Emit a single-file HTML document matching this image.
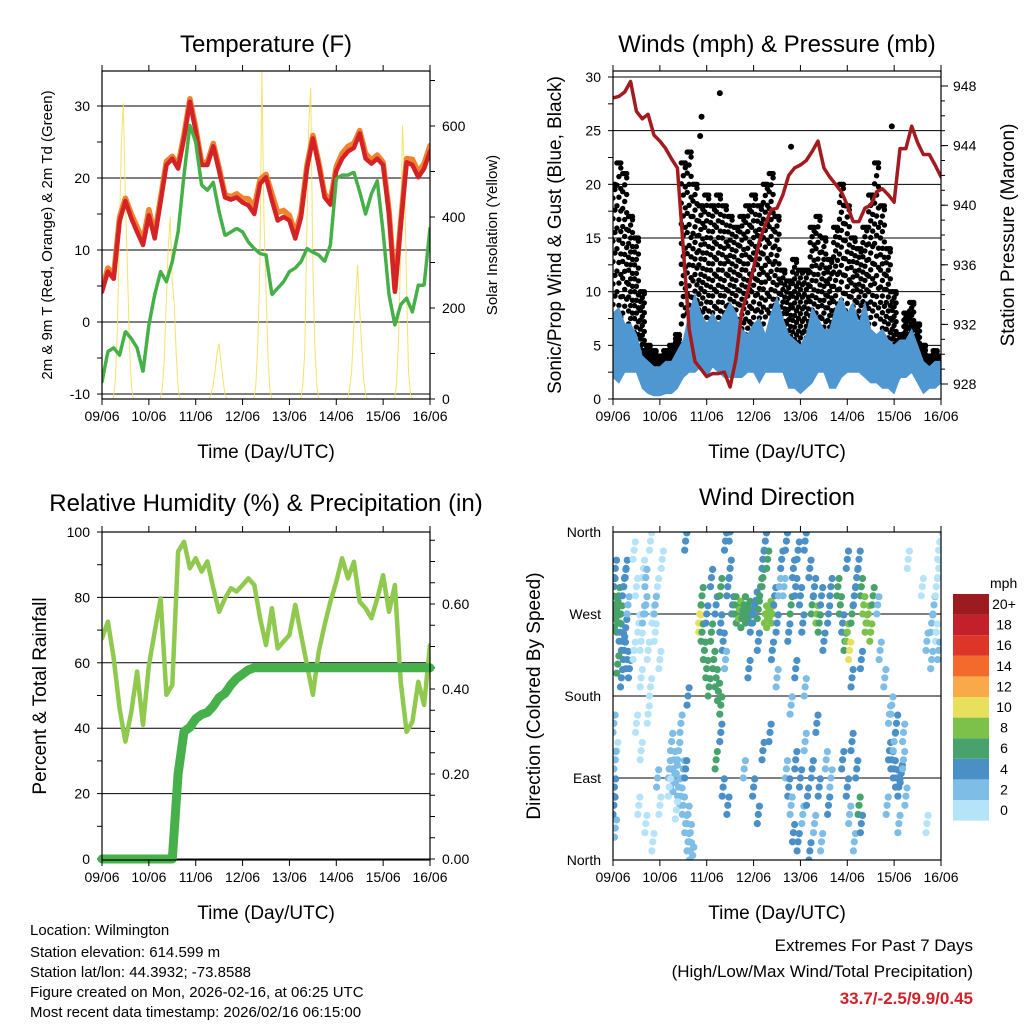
<!DOCTYPE html>
<html><head><meta charset="utf-8"><style>
html,body{margin:0;padding:0;background:#fff;}
svg{display:block;font-family:"Liberation Sans",Arial,sans-serif;}
</style></head><body>
<svg id="c" width="1024" height="1024" viewBox="0 0 1024 1024" xmlns="http://www.w3.org/2000/svg">
<rect width="1024" height="1024" fill="#fff"/>
<g id="g"></g>
<text x="266" y="52" font-size="24" text-anchor="middle">Temperature (F)</text>
<text x="777" y="52" font-size="24" text-anchor="middle">Winds (mph) &amp; Pressure (mb)</text>
<text x="266" y="511" font-size="24" text-anchor="middle">Relative Humidity (%) &amp; Precipitation (in)</text>
<text x="777" y="505" font-size="24" text-anchor="middle">Wind Direction</text>
<text transform="translate(52,235) rotate(-90)" font-size="15" text-anchor="middle">2m &amp; 9m T (Red, Orange) &amp; 2m Td (Green)</text>
<text transform="translate(497,235) rotate(-90)" font-size="15" text-anchor="middle">Solar Insolation (Yellow)</text>
<text transform="translate(561,235) rotate(-90)" font-size="19" text-anchor="middle">Sonic/Prop Wind &amp; Gust (Blue, Black)</text>
<text transform="translate(1014,235) rotate(-90)" font-size="19" text-anchor="middle">Station Pressure (Maroon)</text>
<text transform="translate(46,696) rotate(-90)" font-size="19" text-anchor="middle">Percent &amp; Total Rainfall</text>
<text transform="translate(540,696) rotate(-90)" font-size="19" text-anchor="middle">Direction (Colored By Speed)</text>
<text x="266" y="458" font-size="19" text-anchor="middle">Time (Day/UTC)</text>
<text x="777" y="458" font-size="19" text-anchor="middle">Time (Day/UTC)</text>
<text x="266" y="919" font-size="19" text-anchor="middle">Time (Day/UTC)</text>
<text x="777" y="919" font-size="19" text-anchor="middle">Time (Day/UTC)</text>
<g font-size="15">
<text x="30" y="935">Location: Wilmington</text>
<text x="30" y="957">Station elevation: 614.599 m</text>
<text x="30" y="977">Station lat/lon: 44.3932; -73.8588</text>
<text x="30" y="997">Figure created on Mon, 2026-02-16, at 06:25 UTC</text>
<text x="30" y="1017">Most recent data timestamp: 2026/02/16 06:15:00</text>
</g>
<g font-size="17" text-anchor="end">
<text x="973" y="951">Extremes For Past 7 Days</text>
<text x="973" y="977">(High/Low/Max Wind/Total Precipitation)</text>
<text x="973" y="1004" fill="#d0202a" font-weight="bold">33.7/-2.5/9.9/0.45</text>
</g>
</svg>
<script>
const dayLabels=["09/06","10/06","11/06","12/06","13/06","14/06","15/06","16/06"];
const tempRed=[4.2,7,6,14,16.8,14.4,12.5,10.7,14.8,11.6,16.7,21.8,22.7,21.3,25.5,30.6,26.5,21.8,21.8,24.4,21,17.3,17,17.3,16.6,16.2,15,19.2,20.1,16.9,14.1,14.6,14.1,11.6,14.6,21.3,25.5,21.8,17.3,16.3,21,22.7,23.7,24.2,26.2,22.7,22,22.7,21.8,15,4.2,13.4,22.2,21.8,20.1,21.3,23.7];
const tempOrange=[4.6,7.5,6.5,14.6,17.2,15,13.2,11.3,15.6,12.2,17.2,22.3,23,21.8,26,31,27,22.2,22.2,24.8,21.4,17.7,17.4,17.8,17.2,17.1,16,19.8,20.5,17.8,15.2,15.5,14.8,12.3,15.2,21.8,25.9,22.2,17.8,16.8,21.6,23.4,24.4,24.8,26.6,23.4,22.5,23.2,22.2,15.5,4.6,13.9,22.7,22.6,20.8,22,24.5];
const tempDew=[-8.3,-4.1,-3.6,-4.6,-1.3,-2.3,-3.6,-6.9,-0.4,3.8,7,5.6,8.4,12.5,20.4,27.3,25,19,18.3,19.4,15.3,12,12.5,13,12.5,11.1,10.2,9.5,9.3,3.8,4.7,5.6,7,7.5,8.4,10.2,9.7,9.3,8.4,10.7,19.9,20.4,20.4,20.8,18.1,15,17.8,19.6,12.5,3.8,-0.4,2.4,3.3,1.4,5.1,5.1,13];
const solarDays=[[0,40,150,350,560,650,450,300,120,30,0],[0,20,80,200,330,400,260,210,100,20,0],[0,0,10,30,60,100,122,80,40,10,0],[0,30,120,300,720,400,250,100,20,0,0],[0,30,100,350,600,683,300,120,30,0,0],[0,20,60,150,220,295,200,120,40,10,0],[0,30,120,300,602,500,250,60,10,0,0]];
const pressure=[947.2,947.3,947.6,948.3,946.3,945.8,946.1,944.7,944.3,943.8,943.1,942.5,937.1,931.7,929.5,929,928.5,928.7,928.7,928.8,927.8,929.7,932.9,934.2,935.8,937.6,938.7,939.7,939.8,940.7,942,942.5,942.7,943,943.6,944.3,942.5,941.9,941.4,940.9,940,938.9,938.9,939.8,940,940.9,941.1,940.7,940.2,943.8,943.8,945.3,944.2,943.4,943.4,942.7,941.9];
const windLo=[2,1.5,2.5,2.5,2.5,1,0.5,0.3,0.3,0.5,0.5,1,2,2.5,2.5,3,2,3,2.5,2,2,2,2,2.5,2.5,1.5,2.5,2.5,2.5,2.5,1,1,0.5,1,1.5,2.5,2.5,1,1,2,2.5,2.5,2.5,2,1.5,1.5,1,1,0.5,2,2,2.5,1.5,0.5,1,1,1.5];
const windHi=[8,8.5,7,7,6,4,3.5,3,3,3.5,3.5,4.5,5.5,8,9.8,8,7,8,7,8,9,8,6.5,6,7,7.5,6,8,9.5,7.5,6,5.5,5,6,8.5,7.5,6.5,6.5,8.5,9.5,8,9,7,9,6.5,6,6.5,5.5,5,5.5,5.5,6.5,5,3.5,3,3.5,3.5];
const gustLo=[4,6,8,7,5,3,2,1.5,1.5,1.5,2,3,7,8,8,7,7,6,7,6,6,5,6,6,7,7,7,8,6,3,3,4,3,3,5,5,5,4,5,7,5,4,4,5,7,7,6,4,3,2,3,3,2.5,2,1.5,2,2];
const gustHi=[20,22,21,17,15,10,5,4.5,4,4.5,5,6,22,23,20,18,19,18,19,18,17,16,17,18,19,18,20,21,17,12,11,13,12,12,16,17,15,13,16,20,18,15,14,16,19,22,18,14,10,6,8,9,7,5,4,4.5,4];
const gustOutT=[2.28,1.89,5.95,1.86,3.8];
const gustOutV=[28.5,26.3,25.4,24.5,23.5];
const rhPct=[67.5,72.6,61.4,46,35.9,45,57.3,41,59.3,69.5,79.7,50.2,53.2,94,97,88.9,92,87.9,91,82.8,75.6,79.7,82.8,81.8,83.8,85.8,83.8,73.6,65.4,76.7,64.4,66.5,68.5,77.7,68.5,59.3,50.2,63.4,71.6,78.7,84.8,92,85.8,90.9,78.7,76.7,73.6,79.7,86.8,75.6,83.8,54.2,38.9,42,54.2,47.1,65.4];
const precipIn=[0,0,0,0,0,0,0,0,0,0,0,0,0,0.2,0.3,0.31,0.33,0.34,0.345,0.36,0.38,0.39,0.41,0.425,0.435,0.445,0.45,0.45,0.45,0.45,0.45,0.45,0.45,0.45,0.45,0.45,0.45,0.45,0.45,0.45,0.45,0.45,0.45,0.45,0.45,0.45,0.45,0.45,0.45,0.45,0.45,0.45,0.45,0.45,0.45,0.45,0.45];
const dirTime=[0.02,0.03,0.05,0.08,0.1,0.12,0.15,0.17,0.2,0.22,0.24,0.25,0.27,0.3,0.32,0.35,0.05,0.28,0.18,0.1,0.02,0.03,0.05,0.08,0.04,0.02,
0.45,0.5,0.55,0.6,0.65,0.7,0.75,0.8,0.85,0.9,0.95,1.0,1.05,0.6,0.8,0.9,0.5,0.6,0.7,0.85,0.95,1.0,0.55,0.75,0.65,0.7,0.45,
1.2,1.25,1.3,1.3,1.35,1.4,1.4,1.45,1.5,1.55,1.6,1.65,1.6,1.5,1.25,1.35,1.45,1.55,1.65,1.2,1.7,1.55,1.6,
1.85,1.85,1.9,1.95,2.0,2.05,1.9,2.0,2.1,2.15,2.2,2.25,2.3,2.2,2.3,2.35,2.4,2.45,2.5,2.3,2.4,2.5,2.35,2.3,2.45,2.2,2.1,2.55,
2.6,2.65,2.7,2.75,2.8,2.85,2.9,2.95,3.0,3.05,3.1,3.15,3.2,3.25,3.3,3.35,3.4,3.45,3.5,3.55,3.2,3.25,3.3,3.1,2.9,3.4,3.2,3.35,3.1,2.8,3.0,3.5,
3.6,3.65,3.7,3.75,3.8,3.85,3.9,3.95,4.0,4.05,4.1,4.2,4.25,4.3,4.35,4.4,4.45,4.5,4.6,4.65,3.7,3.75,3.8,3.85,3.9,3.95,4.0,4.05,4.1,4.15,4.2,4.25,4.3,4.35,4.4,4.45,4.55,4.6,4.65,3.8,4.1,3.9,
4.8,4.85,4.9,4.95,5.0,5.05,5.1,5.15,5.2,5.25,5.3,5.35,5.4,5.45,5.5,5.55,5.0,5.3,5.1,4.9,5.0,5.05,5.1,5.2,5.25,5.15,5.3,
5.65,5.7,5.8,5.9,5.9,5.95,6.0,6.05,6.1,6.15,6.2,6.25,6.0,5.85,6.1,6.05,5.95,6.2,
6.6,6.7,6.8,6.85,6.9,6.95,7.0,6.9,6.95,6.8,6.95,6.7,6.3];
const dirDeg=[300,280,265,275,260,290,250,270,240,300,230,310,255,220,280,210,320,320,200,215,150,80,35,120,110,60,
340,300,260,240,320,280,230,350,270,250,300,220,330,200,190,280,150,120,40,20,90,60,60,160,270,310,230,
100,90,110,85,95,120,80,70,60,40,20,10,50,100,130,55,150,100,30,80,5,350,180,
270,260,250,230,210,190,290,270,250,220,200,185,170,280,260,240,220,300,320,300,350,360,80,140,60,110,310,280,
280,270,275,265,280,270,275,260,270,285,275,300,310,270,265,275,270,290,260,300,330,350,330,240,210,230,120,140,50,100,80,200,
330,300,350,250,280,320,300,340,290,260,350,320,280,300,270,260,290,240,270,300,100,80,60,30,110,20,90,50,130,70,10,100,40,150,80,20,110,60,90,170,190,210,
300,280,260,240,250,230,270,290,310,330,300,280,260,270,250,290,330,220,200,110,80,50,130,100,60,20,40,
280,230,200,160,120,110,100,90,80,95,110,70,130,60,40,150,170,140,
300,240,260,280,300,320,350,250,230,220,340,40,330];
const dirSpd=[4,6,6,6,7,6,5,6,5,4,4,4,4,4,3,4,4,4,4,6,2,4,2,1,3,4,
1,1,1,0,1,2,1,0,0,1,1,1,0,1,0,2,1,0,1,0,2,1,1,1,3,2,1,
2,2,2,3,2,2,2,2,2,2,2,2,2,3,2,1,2,4,2,1,2,4,4,
10,10,6,6,6,6,6,4,6,6,6,6,6,4,4,4,2,4,4,6,4,4,4,4,4,6,4,4,
6,6,8,6,6,6,6,4,4,4,6,6,6,8,8,8,8,4,4,2,4,4,6,4,4,4,4,4,4,2,4,2,
4,2,4,4,6,4,4,4,4,4,4,4,6,4,8,6,4,4,4,4,2,4,2,4,4,4,4,2,2,4,4,4,2,4,4,2,2,4,2,2,2,4,
6,6,4,6,8,10,6,4,4,4,6,8,8,8,8,6,4,4,4,4,4,2,4,4,6,2,4,
2,2,2,2,4,4,4,4,4,4,2,2,2,2,2,4,2,2,
0,2,2,2,1,1,1,1,2,2,1,0,0];
const speedBins=[0,2,4,6,8,10,12,14,16,18,20];
const speedLabels=["0","2","4","6","8","10","12","14","16","18","20+"];
const speedColors=["#b5e3f8","#7ebde6","#4a90c7","#47a26c","#7cc24a","#e8e05c","#f9a84a","#f26a2c","#dd3629","#c2202a","#9b1b1f"];

const NS="http://www.w3.org/2000/svg";
const G=document.getElementById('g');
function mk(tag,attrs,parent){const e=document.createElementNS(NS,tag);for(const k in attrs)e.setAttribute(k,attrs[k]);(parent||G).appendChild(e);return e;}
const STEP=0.125;
function panel(x0,y0,w,h){return {x0,y0,w,h,x:d=>x0+d*w/7};}
const P1=panel(102,71,328,328),P2=panel(613,71,328,328),P3=panel(102,532,328,328),P4=panel(613,532,328,328);
function scale(v0,p0,v1,p1){return v=>p0+(v-v0)*(p1-p0)/(v1-v0);}
const yT=scale(0,322,30,106), yS=scale(0,399,600,126);
const yW=scale(0,399,30,77), yP=scale(928,384,948,86);
const yR=scale(0,859,100,532), yPr=scale(0,859,0.6,604);
const yD=scale(0,860,360,532);

function frame(P,name){
  const r=mk('rect',{x:P.x0,y:P.y0,width:P.w,height:P.h,fill:'none',stroke:'#000','stroke-width':1.2});
  
  
  for(let i=0;i<=7;i++){
    const x=P.x(i);
    mk('line',{x1:x,y1:P.y0+P.h,x2:x,y2:P.y0+P.h+6,stroke:'#000'});
    mk('line',{x1:x,y1:P.y0,x2:x,y2:P.y0-6,stroke:'#000'});
    const t=mk('text',{x:x,y:P.y0+P.h+22,'font-size':14,'text-anchor':'middle'});
    t.textContent=dayLabels[i];
    
    
  }
}
function grid(P,vals,yf,labels,side){
  vals.forEach((v,i)=>{
    const y=yf(v);
    mk('line',{x1:P.x0,y1:y,x2:P.x0+P.w,y2:y,stroke:'#000','stroke-width':1});
    if(labels){
      const t=mk('text',{x:side==='l'?P.x0-12:P.x0+P.w+12,y:y+5,'font-size':14,'text-anchor':side==='l'?'end':'start'});
      t.textContent=labels[i];
      
      
    }
  });
}
function ticks(P,vals,yf,side,len){
  vals.forEach(v=>{const y=yf(v);if(y<P.y0-0.5||y>P.y0+P.h+0.5)return;
    const x=side==='l'?P.x0:P.x0+P.w;const dx=side==='l'?-len:len;
    mk('line',{x1:x,y1:y,x2:x+dx,y2:y,stroke:'#000'});});
}
function rticklabels(P,vals,yf,labels){
  vals.forEach((v,i)=>{const t=mk('text',{x:P.x0+P.w+12,y:yf(v)+5,'font-size':14});
    t.textContent=labels[i];
    
    });
}
function lineOf(P,arr,yf,attrs,name){
  const pts=arr.map((v,i)=>P.x(i*STEP).toFixed(1)+','+yf(v).toFixed(1)).join(' ');
  const e=mk('polyline',Object.assign({points:pts,fill:'none','stroke-linejoin':'round','stroke-linecap':'round'},attrs));
  
  
  return e;
}
function clip(P,id){const c=mk('clipPath',{id:id});mk('rect',{x:P.x0,y:P.y0,width:P.w,height:P.h},c);}
clip(P1,'c1');clip(P2,'c2');clip(P3,'c3');clip(P4,'c4');

// Panel 1
const tv=[-10,0,10,20,30];
grid(P1,tv,yT,tv.map(String),'l');
ticks(P1,[-10,-5,0,5,10,15,20,25,30,35],yT,'l',5);
ticks(P1,[0,100,200,300,400,500,600,700],yS,'r',5);
rticklabels(P1,[0,200,400,600],yS,["0","200","400","600"]);
const g1=mk('g',{'clip-path':'url(#c1)'});
solarDays.forEach((arr,d)=>{
  const pts=arr.map((v,k)=>P1.x(d+0.24+k*0.043).toFixed(1)+','+yS(v).toFixed(1)).join(' ');
  const e=mk('polyline',{points:pts,fill:'none',stroke:'#f7de5a','stroke-width':1,opacity:0.9},g1);
  
  
});
g1.appendChild(lineOf(P1,tempOrange,yT,{stroke:'#f2822e','stroke-width':5.5},'temp-9m-orange-line'));
g1.appendChild(lineOf(P1,tempRed,yT,{stroke:'#d42326','stroke-width':4.5},'temp-2m-red-line'));
g1.appendChild(lineOf(P1,tempDew,yT,{stroke:'#45b048','stroke-width':3.5,'stroke-dasharray':'3 1.5'},'dewpoint-green-line'));
frame(P1,'temperature');

// Panel 2
const wv=[0,5,10,15,20,25,30];
grid(P2,wv,yW,wv.map(String),'l');
ticks(P2,[0,2.5,5,7.5,10,12.5,15,17.5,20,22.5,25,27.5,30],yW,'l',5);
const pt=[];for(let p=928;p<=948;p++)pt.push(p);
ticks(P2,pt,yP,'r',4);ticks(P2,[928,932,936,940,944,948],yP,'r',7);
rticklabels(P2,[928,932,936,940,944,948],yP,["928","932","936","940","944","948"]);
const g2=mk('g',{'clip-path':'url(#c2)'});
const frac=[0,0.12,0.25,0.37,0.5,0.62,0.75,0.87,1];
const offs=[-0.042,0,0.042];
gustLo.forEach((lo,i)=>{
  const hi=gustHi[i];
  offs.forEach((o,j)=>{
    frac.forEach((f,k)=>{
      const ff=Math.min(1,f+0.05*j);
      const c=mk('circle',{cx:P2.x(i*STEP+o).toFixed(1),cy:yW(lo+(hi-lo)*ff).toFixed(1),r:2.7,fill:'#000'},g2);
      
      
    });
  });
});
gustOutT.forEach((t,i)=>{
  const c=mk('circle',{cx:P2.x(t),cy:yW(gustOutV[i]),r:3,fill:'#000'},g2);
  
  
});
{
  const top=windHi.map((v,i)=>P2.x(i*STEP).toFixed(1)+','+yW(v).toFixed(1));
  const bot=windLo.map((v,i)=>P2.x(i*STEP).toFixed(1)+','+yW(v).toFixed(1)).reverse();
  const e=mk('polygon',{points:top.concat(bot).join(' '),fill:'#4f97d1',stroke:'#4f97d1','stroke-width':1},g2);
  
  
}
g2.appendChild(lineOf(P2,pressure,yP,{stroke:'#a31b1e','stroke-width':3.5},'pressure-maroon-line'));
frame(P2,'winds');

// Panel 3
const rv=[0,20,40,60,80,100];
grid(P3,rv,yR,rv.map(String),'l');
ticks(P3,[0,10,20,30,40,50,60,70,80,90,100],yR,'l',5);
ticks(P3,[0,0.05,0.1,0.15,0.2,0.25,0.3,0.35,0.4,0.45,0.5,0.55,0.6,0.65,0.7,0.75],yPr,'r',5);
rticklabels(P3,[0,0.2,0.4,0.6],yPr,["0.00","0.20","0.40","0.60"]);
const g3=mk('g',{});
const cl3=mk('g',{'clip-path':'url(#c3)'},g3);
cl3.appendChild(lineOf(P3,rhPct,yR,{stroke:'#8fca4f','stroke-width':4.5},'relative-humidity-line'));
g3.appendChild(lineOf(P3,precipIn,yPr,{stroke:'#46b14a','stroke-width':9},'precipitation-line'));
frame(P3,'humidity');

// Panel 4
const dv=[0,90,180,270,360];
grid(P4,dv,yD,["North","East","South","West","North"],'l');
const g4=mk('g',{'clip-path':'url(#c4)'});
const spread=[[0,0],[0.025,9],[-0.02,-10]];
dirTime.forEach((t,i)=>{
  let b=0;speedBins.forEach((s,k)=>{if(dirSpd[i]>=s)b=k;});
  spread.forEach(sp=>{
    const c=mk('circle',{cx:P4.x(t+sp[0]).toFixed(1),cy:yD(dirDeg[i]+sp[1]).toFixed(1),r:3.6,fill:speedColors[b]},g4);
    
    
  });
});
frame(P4,'wind-direction');
const mph=mk('text',{x:990,y:588,'font-size':14});
mph.textContent='mph';


speedColors.forEach((col,k)=>{
  const idx=10-k;const y=594+idx*20.6;
  const r=mk('rect',{x:953,y:y,width:36,height:20.6,fill:col});
  
  
  const t=mk('text',{x:1004,y:y+15,'font-size':14,'text-anchor':'middle'});
  t.textContent=speedLabels[k];
  
  
});
</script>
</body></html>
